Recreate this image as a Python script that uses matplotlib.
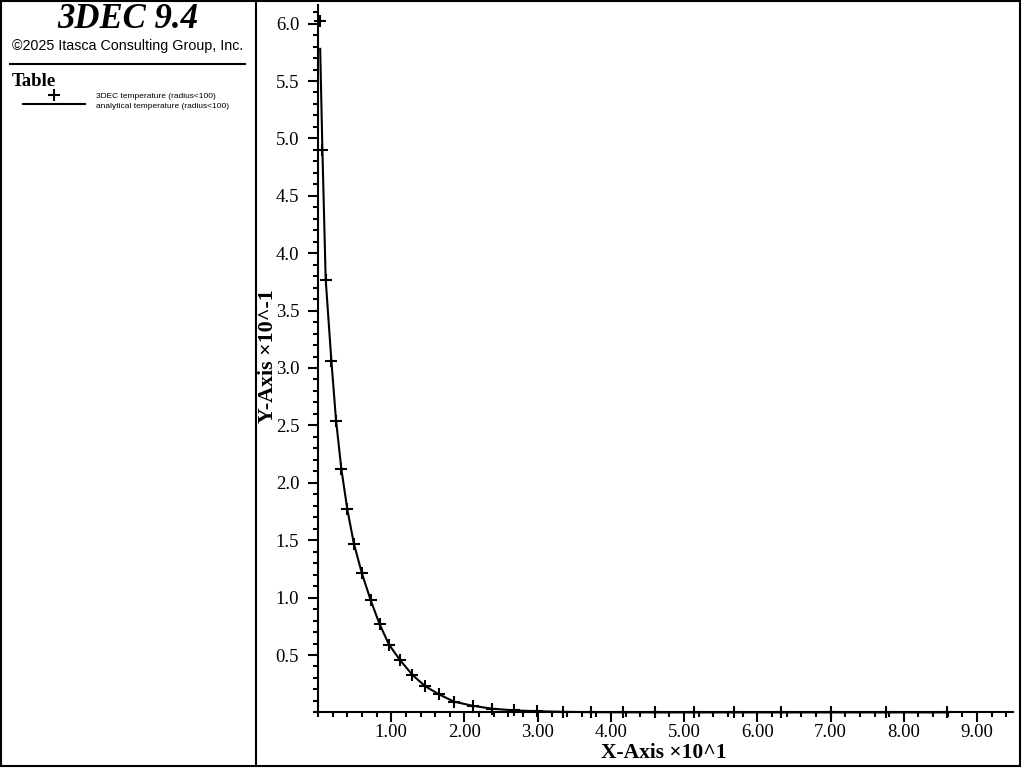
import matplotlib
matplotlib.use("Agg")
import matplotlib.pyplot as plt
from matplotlib.lines import Line2D
from matplotlib.patches import Rectangle
from matplotlib.ticker import MultipleLocator, FormatStrFormatter

# ------------ data (x in units of 10, y in units of 0.1) ------------
x_3dec = [0.025, 0.06, 0.105, 0.183, 0.247, 0.319, 0.40, 0.49, 0.60, 0.718,
          0.84, 0.97, 1.12, 1.29, 1.46, 1.65, 1.86, 2.11, 2.38, 2.67,
          2.99, 3.35, 3.73, 4.16, 4.60, 5.13, 5.68, 6.32, 7.00, 7.75, 8.59]
y_3dec = [6.02, 4.90, 3.77, 3.06, 2.54, 2.12, 1.77, 1.47, 1.21, 0.98,
          0.77, 0.59, 0.456, 0.326, 0.23, 0.158, 0.093, 0.058, 0.032, 0.018,
          0.010, 0.005, 0.002, 0.001, 0.0, 0.0, 0.0, 0.0, 0.0, 0.0, 0.0]

x_anal = [0.03, 0.06, 0.105, 0.183, 0.247, 0.319, 0.40, 0.49, 0.60, 0.718,
          0.84, 0.97, 1.12, 1.29, 1.46, 1.65, 1.86, 2.11, 2.38, 2.67,
          2.99, 3.35, 3.73, 4.16, 4.60, 5.13, 5.68, 6.32, 7.00, 7.75, 8.59]
y_anal = [5.78, 4.90, 3.77, 3.06, 2.54, 2.12, 1.77, 1.47, 1.21, 0.98,
          0.77, 0.59, 0.456, 0.326, 0.23, 0.158, 0.093, 0.058, 0.032, 0.018,
          0.010, 0.005, 0.002, 0.001, 0.0, 0.0, 0.0, 0.0, 0.0, 0.0, 0.0]

legend_labels = ["3DEC temperature (radius<100)", "analytical temperature (radius<100)"]

SERIF = ["Liberation Serif", "DejaVu Serif"]
SANS = ["Liberation Sans", "DejaVu Sans"]
W, H = 1024, 768
XMAX = (1013 - 316.6) / 73.375
YMAX = (712.4 - 5) / 114.8


def fx(px):
    return px / W


def fy(py):
    return 1 - py / H


fig = plt.figure(figsize=(10.24, 7.68), dpi=100)

# ---- frame / left panel ----
fig.add_artist(Rectangle((fx(1), fy(766)), fx(1019), 765 / H, fill=False,
                         lw=1.5, ec="black", transform=fig.transFigure))
fig.add_artist(Line2D([fx(256), fx(256)], [fy(1), fy(766)], lw=1.5, color="black"))
fig.add_artist(Line2D([fx(10), fx(245)], [fy(63.5), fy(63.5)], lw=1.5, color="black"))

fig.text(fx(128), fy(19), "3DEC 9.4", family=SERIF, weight="bold", style="italic",
         fontsize=25, ha="center", va="center")
fig.text(fx(128), fy(46), "\u00a92025 Itasca Consulting Group, Inc.", family=SANS,
         fontsize=10.3, ha="center", va="center")
fig.text(fx(12), fy(82), "Table", family=SERIF, weight="bold", fontsize=13.5,
         ha="left", va="center")

fig.add_artist(Line2D([fx(54)], [fy(95)], marker="+", ms=9, mew=1.5, color="black", lw=0))
fig.add_artist(Line2D([fx(23), fx(85)], [fy(104), fy(104)], lw=1.5, color="black"))
fig.text(fx(96), fy(96.5), legend_labels[0], family=SANS, fontsize=6, ha="left", va="center")
fig.text(fx(96), fy(106.5), legend_labels[1], family=SANS, fontsize=6, ha="left", va="center")

# ---- main axes ----
ax = fig.add_axes([fx(318), fy(712.4), fx(1013 - 318), (712.4 - 5) / H])
ax.plot(x_anal, y_anal, color="black", lw=1.5, clip_on=False)
ax.plot(x_3dec, y_3dec, ls="none", marker="+", ms=9, mew=1.5, color="black", clip_on=False)

for s in ["top", "right"]:
    ax.spines[s].set_visible(False)
for s in ["left", "bottom"]:
    ax.spines[s].set_linewidth(1.5)

ax.xaxis.set_minor_locator(MultipleLocator(0.2))
ax.yaxis.set_minor_locator(MultipleLocator(0.1))
ax.set_xticks([1, 2, 3, 4, 5, 6, 7, 8, 9])
ax.set_yticks([0.5, 1.0, 1.5, 2.0, 2.5, 3.0, 3.5, 4.0, 4.5, 5.0, 5.5, 6.0])
ax.xaxis.set_major_formatter(FormatStrFormatter("%.2f"))
ax.yaxis.set_major_formatter(FormatStrFormatter("%.1f"))
ax.tick_params(which="major", length=7.5, width=1.5, direction="out")
ax.tick_params(which="minor", length=3.5, width=1.5, direction="out")
ax.tick_params(axis="x", which="major", pad=1)
ax.tick_params(axis="y", which="major", pad=6)

for lbl in ax.get_xticklabels() + ax.get_yticklabels():
    lbl.set_family(SERIF)
    lbl.set_fontsize(13.5)

ax.set_xlim(0, XMAX)
ax.set_ylim(0, YMAX)

fig.text(fx(664), fy(753), "X-Axis \u00d710^1", family=SERIF, weight="bold",
         fontsize=15.5, ha="center", va="center")
fig.text(fx(268), fy(356), "Y-Axis \u00d710^-1", family=SERIF, weight="bold",
         fontsize=15.8, ha="center", va="center", rotation=90)

fig.savefig("out.png", dpi=100)
